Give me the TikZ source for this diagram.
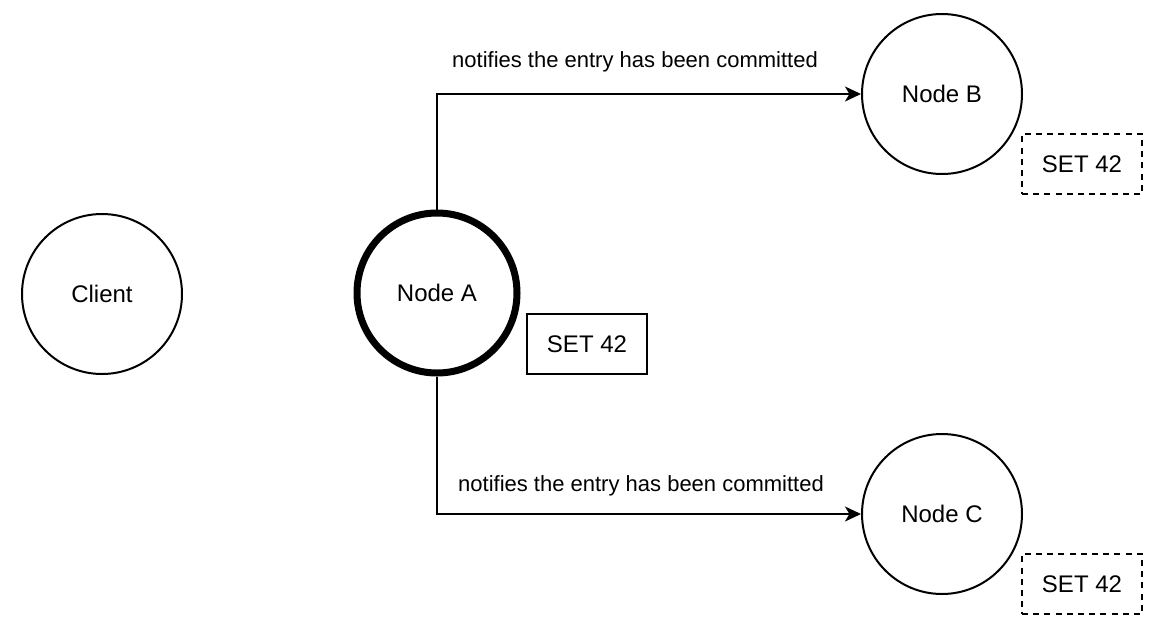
\documentclass[tikz,border=0pt]{standalone}
\usepackage{fontspec}
\setmainfont{Liberation Sans}
\usetikzlibrary{arrows.meta}
\begin{document}
\begin{tikzpicture}[x=0.5pt, y=-0.5pt,
  nodo/.style={circle, draw=negro, line width=1pt, minimum size=80pt,
    inner sep=0pt, font=\fontsize{12}{14}\selectfont},
  caja/.style={rectangle, draw=negro, line width=1pt, minimum width=60pt,
    minimum height=30pt, inner sep=0pt, font=\fontsize{12}{14}\selectfont},
  cajad/.style={caja, dash pattern=on 3pt off 2.6pt},
  flecha/.style={draw=negro, line width=1pt,
    -{Stealth[length=8pt, width=7.5pt, inset=2.2pt]}},
  etiq/.style={font=\fontsize{11}{13}\selectfont}]

\definecolor{negro}{RGB}{0,0,0}

% Marco
\useasboundingbox (0,0) rectangle (1168,638);

% === NODOS ===
\node[nodo] (cliente) at (102,294) {Client};
\node[nodo, line width=3.5pt] (nodoA) at (437,293) {Node A};
\node[nodo] (nodoB) at (942,94) {Node B};
\node[nodo] (nodoC) at (942,514) {Node C};

% === ENTRADAS DEL LOG ===
\node[caja]  (setA) at (587,344) {SET 42};
\node[cajad] (setB) at (1082,164) {SET 42};
\node[cajad] (setC) at (1082,584) {SET 42};

% === FLECHAS ===
\draw[flecha] (nodoA.north) |- (nodoB.west);
\draw[flecha] (nodoA.south) |- (nodoC.west);

% === TEXTOS ===
\node[etiq] (notifB) at (635,62)  {notifies the entry has been committed};
\node[etiq] (notifC) at (641,486) {notifies the entry has been committed};

\end{tikzpicture}
\end{document}
